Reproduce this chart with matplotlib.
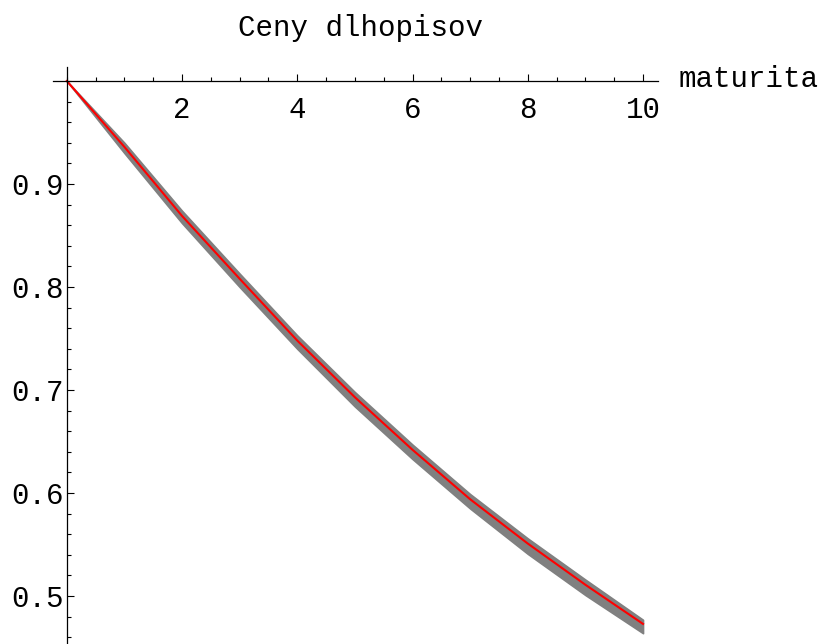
import numpy as np
import matplotlib
matplotlib.use("Agg")
import matplotlib.pyplot as plt
from matplotlib.ticker import MultipleLocator, FixedLocator

# maturita (roky) a ceny dlhopisov odcitane z obrazku
maturita = [0, 1, 2, 3, 4, 5, 6, 7, 8, 9, 10]
cena = [1.0, 0.936, 0.869, 0.808, 0.748, 0.693, 0.642, 0.594, 0.551, 0.511, 0.473]
# obalka simulovanych cien (sivy pas)
cena_horna = [1.0, 0.940, 0.874, 0.813, 0.753, 0.698, 0.647, 0.599, 0.556, 0.516, 0.477]
cena_dolna = [1.0, 0.930, 0.862, 0.800, 0.740, 0.684, 0.633, 0.585, 0.541, 0.501, 0.464]

x_ticks = [2, 4, 6, 8, 10]
y_ticks = [0.5, 0.6, 0.7, 0.8, 0.9]

plt.rcParams['font.family'] = ['Liberation Mono', 'DejaVu Sans Mono']
fs = 21

fig = plt.figure(figsize=(8.18, 6.44), dpi=100)
ax = fig.add_axes([53 / 818, 0.0, (658 - 53) / 818, 1 - 67 / 644])

ax.fill_between(maturita, cena_dolna, cena_horna, color='#808080', lw=1.2, edgecolor='#808080')
ax.plot(maturita, cena, color='red', lw=1.5)

ax.set_xlim(-0.24, 10.26)
ax.set_ylim(0.4535, 1.0136)

ax.spines['top'].set_visible(False)
ax.spines['right'].set_visible(False)
ax.spines['left'].set_position(('data', 0))
ax.spines['bottom'].set_position(('data', 1.0))
for s in ('left', 'bottom'):
    ax.spines[s].set_linewidth(0.9)

ax.xaxis.set_major_locator(FixedLocator(x_ticks))
ax.xaxis.set_minor_locator(MultipleLocator(0.5))
ax.yaxis.set_major_locator(FixedLocator(y_ticks))
ax.yaxis.set_minor_locator(MultipleLocator(0.02))
ax.set_xticklabels([str(t) for t in x_ticks])
ax.set_yticklabels([f"{t:.1f}" for t in y_ticks])

ax.tick_params(axis='x', which='major', direction='in', length=5, width=0.8, pad=11, labelsize=fs)
ax.tick_params(axis='x', which='minor', direction='in', length=3, width=0.8)
ax.tick_params(axis='y', which='major', direction='in', length=5, width=0.8, pad=2, labelsize=fs)
ax.tick_params(axis='y', which='minor', direction='in', length=3, width=0.8)

ax.text(10.62, 1.002, "maturita", ha='left', va='center', fontsize=fs, clip_on=False)
fig.text(360 / 818, 1 - 28 / 644, "Ceny dlhopisov", ha='center', va='center', fontsize=fs)

fig.savefig("out.png", dpi=100)
